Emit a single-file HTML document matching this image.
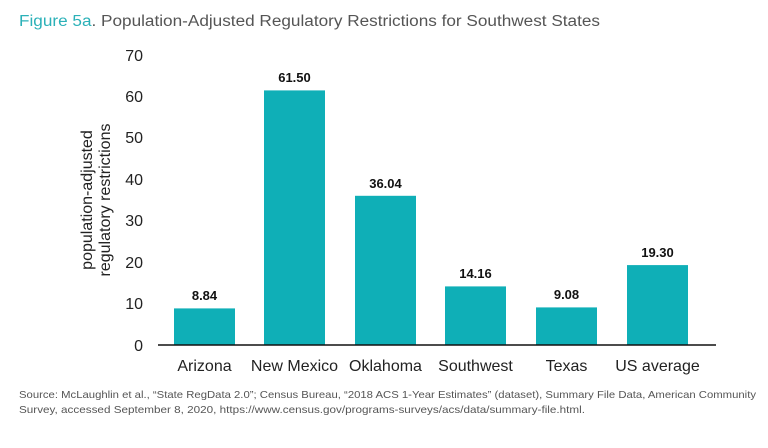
<!DOCTYPE html>
<html><head><style>
body{margin:0;background:#fff;}
svg text{font-family:"Liberation Sans",sans-serif;}
</style></head><body>
<svg width="768" height="443" xmlns="http://www.w3.org/2000/svg">
<text x="19" y="26" font-size="15.5" fill="#2bb1b8" textLength="581" lengthAdjust="spacingAndGlyphs">Figure 5a<tspan fill="#555">. Population-Adjusted Regulatory Restrictions for Southwest States</tspan></text>
<g font-size="16" fill="#222" text-anchor="end">
<text x="143" y="351">0</text>
<text x="143" y="309">10</text>
<text x="143" y="268">20</text>
<text x="143" y="226">30</text>
<text x="143" y="185">40</text>
<text x="143" y="143">50</text>
<text x="143" y="102">60</text>
<text x="143" y="61">70</text>
</g>
<text transform="translate(92,200) rotate(-90)" font-size="16" fill="#222" text-anchor="middle">population-adjusted</text>
<text transform="translate(110,200) rotate(-90)" font-size="16" fill="#222" text-anchor="middle">regulatory restrictions</text>
<g fill="#0fafb7">
<rect x="174" y="308.4" width="61" height="36.6"/>
<rect x="264" y="90.4" width="61" height="254.6"/>
<rect x="355" y="195.8" width="61" height="149.2"/>
<rect x="445" y="286.4" width="61" height="58.6"/>
<rect x="536" y="307.4" width="61" height="37.6"/>
<rect x="627" y="265.1" width="61" height="79.9"/>
</g>
<line x1="158" y1="345" x2="716" y2="345" stroke="#111" stroke-width="1.5"/>
<g font-size="13" font-weight="bold" fill="#111" text-anchor="middle">
<text x="204.5" y="300">8.84</text>
<text x="294.5" y="82">61.50</text>
<text x="385.5" y="188">36.04</text>
<text x="475.5" y="278">14.16</text>
<text x="566.5" y="299">9.08</text>
<text x="657.5" y="257">19.30</text>
</g>
<g font-size="16" fill="#222" text-anchor="middle">
<text x="204.5" y="371">Arizona</text>
<text x="294.5" y="371">New Mexico</text>
<text x="385.5" y="371">Oklahoma</text>
<text x="475.5" y="371">Southwest</text>
<text x="566.5" y="371">Texas</text>
<text x="657.5" y="371">US average</text>
</g>
<g font-size="10.5" fill="#555">
<text x="19" y="398" textLength="737" lengthAdjust="spacingAndGlyphs">Source: McLaughlin et al., “State RegData 2.0”; Census Bureau, “2018 ACS 1-Year Estimates” (dataset), Summary File Data, American Community</text>
<text x="19" y="413" textLength="566" lengthAdjust="spacingAndGlyphs">Survey, accessed September 8, 2020, https://www.census.gov/programs-surveys/acs/data/summary-file.html.</text>
</g>
</svg>
</body></html>
